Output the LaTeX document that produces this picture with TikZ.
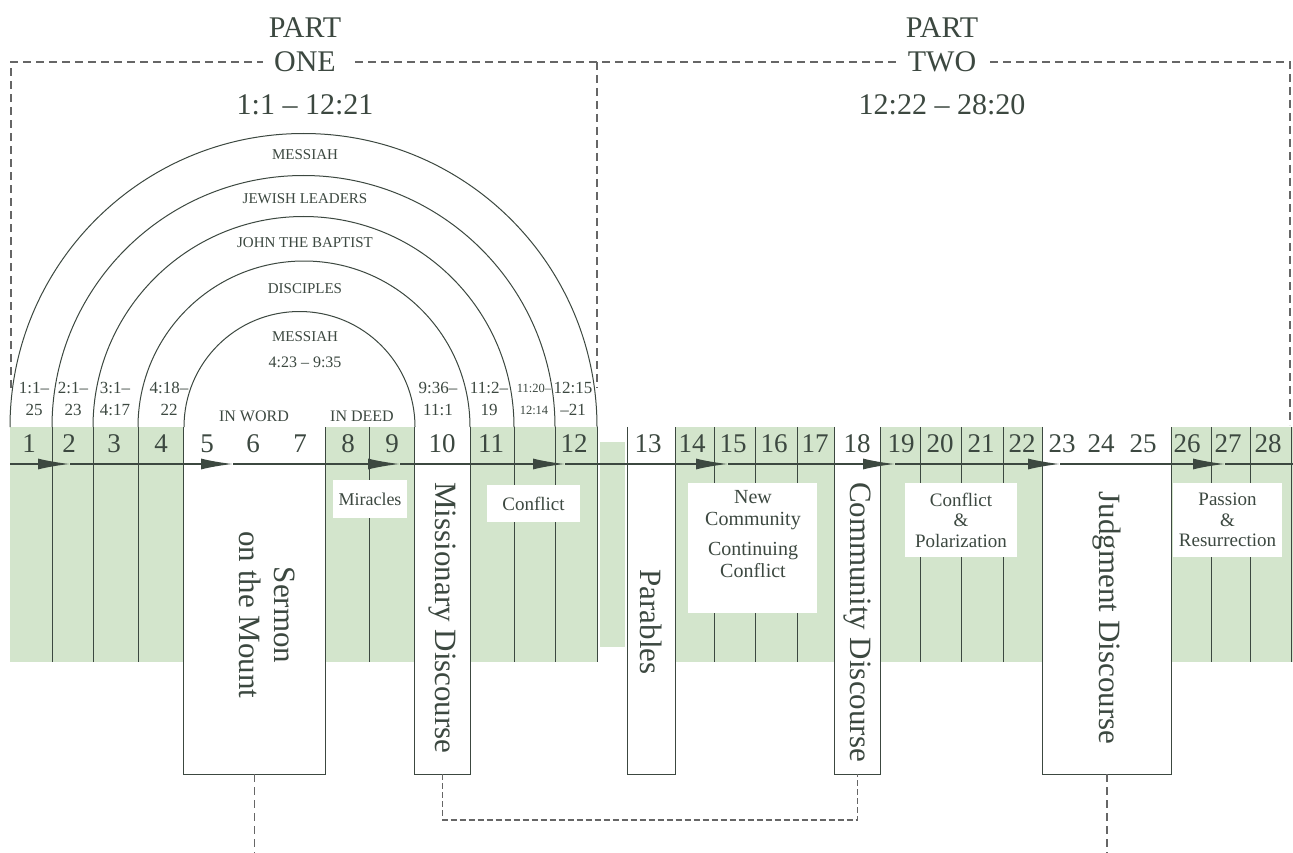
\documentclass[tikz,border=0pt]{standalone}
\usepackage{fontspec}
\setmainfont{Liberation Serif}
\usetikzlibrary{arrows.meta}
\definecolor{band}{HTML}{D3E5CC}
\definecolor{ink}{HTML}{3C4840}
\definecolor{dashc}{HTML}{666666}
\newcommand\fsz[2]{\fontsize{#1}{#2}\selectfont}
\begin{document}
\begin{tikzpicture}[x=1pt,y=-1pt,
  ln/.style={draw=ink, line width=1pt},
  framedash/.style={draw=dashc, line width=1.1pt, dash pattern=on 8pt off 5pt},
  txt/.style={text=ink, inner sep=0pt},
  numlab/.style={txt, font=\fsz{27}{27}, anchor=base},
  arclab/.style={txt, font=\fsz{15}{18}},
  verselab/.style={txt, font=\fsz{17}{22}, align=center},
  whitelab/.style={fill=white, inner sep=0pt, text=ink, align=center},
  rotlab/.style={txt, rotate=-90, font=\fsz{31}{35}, align=center},
  colbox/.style={fill=white, inner sep=0pt, minimum height=347pt},
  titlelab/.style={txt, font=\fsz{30}{30}, anchor=base},
  rangelab/.style={txt, font=\fsz{30}{30}},
  axisln/.style={draw=ink, line width=1.8pt},
  arrln/.style={axisln, -{Latex[length=32pt,width=11pt]}}
]
\useasboundingbox (0,0) rectangle (1293,853);
\fill[white] (0,0) rectangle (1293,853);

% green band
\fill[band] (10,427) rectangle (184,662);
\fill[band] (325,427) rectangle (415,662);
\fill[band] (470,427) rectangle (597,662);
\fill[band] (600,442) rectangle (625,647);
\fill[band] (675,427) rectangle (835,662);
\fill[band] (880,427) rectangle (1043,662);
\fill[band] (1171,427) rectangle (1293,662);

% discourse columns
\node[colbox, minimum width=141pt] (sermon) at (254.5,600.5) {};
\node[colbox, minimum width=55pt] (miss) at (442.5,600.5) {};
\node[colbox, minimum width=47pt] (parab) at (651.5,600.5) {};
\node[colbox, minimum width=45pt] (comm) at (857.5,600.5) {};
\node[colbox, minimum width=128pt] (judg) at (1107,600.5) {};
\foreach \b in {sermon,miss,parab,comm,judg}{
  \draw[ln] (\b.north west) -- (\b.south west) -- (\b.south east) -- (\b.north east);
}

% column lines
\foreach \x in {52,93,138,369,514,555,597,714,755,797,920,961,1003,1211,1250,1291}{
  \draw[ln] (\x,427) -- (\x,662);
}

% arches
\draw[ln] (10,427) arc[start angle=180, end angle=360, radius=293.5];
\draw[ln] (52,427) arc[start angle=180, end angle=360, radius=251.5];
\draw[ln] (93,427) arc[start angle=180, end angle=360, radius=210.5];
\draw[ln] (138,427) arc[start angle=180, end angle=360, radius=166];
\draw[ln] (184,427) arc[start angle=180, end angle=360, radius=115.5];

% axis with arrows
\coordinate (a0) at (10,464);
\coordinate (t1) at (70,464);
\coordinate (t2) at (233,464);
\coordinate (t3) at (400,464);
\coordinate (t4) at (565,464);
\coordinate (t5) at (728,464);
\coordinate (t6) at (895,464);
\coordinate (t7) at (1060,464);
\coordinate (t8) at (1225,464);
\coordinate (aE) at (1293,464);
\draw[arrln] (a0) -- (t1);
\draw[arrln] (t1) -- (t2);
\draw[arrln] (t2) -- (t3);
\draw[arrln] (t3) -- (t4);
\draw[arrln] (t4) -- (t5);
\draw[arrln] (t5) -- (t6);
\draw[arrln] (t6) -- (t7);
\draw[arrln] (t7) -- (t8);
\draw[axisln] (t8) -- (aE);

% white label boxes
\node[whitelab, minimum width=74pt, minimum height=38pt, font=\fsz{18}{18}] (mir) at (370,499) {Miracles};
\node[whitelab, minimum width=93pt, minimum height=37pt, font=\fsz{19}{19}] (conA) at (533.5,503.5) {Conflict};
\node[whitelab, minimum width=129pt, minimum height=130pt] (ncbox) at (752.5,548) {};
\node[txt, font=\fsz{20}{22.5}, align=center] (nctext) at (753,534) {New\\Community\\[7pt]Continuing\\Conflict};
\node[whitelab, minimum width=112pt, minimum height=74pt, font=\fsz{19}{20.5}] (conB) at (961,520) {Conflict\\\&\\Polarization};
\node[whitelab, minimum width=109pt, minimum height=74pt, font=\fsz{19}{20.5}] (pas) at (1227.5,520) {Passion\\\&\\Resurrection};

% rotated discourse labels
\node[rotlab] (sermontext) at (267,615) {Sermon\\on the Mount};
\node[rotlab] (misstext) at (442.5,618) {Missionary Discourse};
\node[rotlab] (parabtext) at (651.5,622) {Parables};
\node[rotlab] (commtext) at (857.5,622) {Community Discourse};
\node[rotlab] (judgtext) at (1107,618) {Judgment Discourse};

% chapter numbers
\foreach \n/\x in {1/29,2/69,3/114,4/161,5/207,6/253,7/300,8/348,9/392,10/442,11/491,12/574,13/648,14/692,15/733,16/774,17/815,18/857,19/901,20/940,21/981,22/1022,23/1062,24/1101,25/1143,26/1187,27/1228,28/1268}{
  \node[numlab] (n\n) at (\x,452) {\n};
}

% arch labels
\node[arclab] (l1) at (305,155) {MESSIAH};
\node[arclab] (l2) at (305,199) {JEWISH LEADERS};
\node[arclab] (l3) at (305,243) {JOHN THE BAPTIST};
\node[arclab] (l4) at (305,289) {DISCIPLES};
\node[arclab] (l5) at (305,337) {MESSIAH};
\node[txt, font=\fsz{16}{16}] (l6) at (305,362) {4:23 -- 9:35};

% verse ranges
\node[verselab] (v1) at (34,399) {1:1--\\25};
\node[verselab] (v2) at (73,399) {2:1--\\23};
\node[verselab] (v3) at (115,399) {3:1--\\4:17};
\node[verselab] (v4) at (169,399) {4:18--\\22};
\node[verselab] (v10) at (438,399) {9:36--\\11:1};
\node[verselab] (v11) at (489,399) {11:2--\\19};
\node[txt, font=\fsz{12.5}{22}, align=center] (v11b) at (534,399) {11:20--\\12:14};
\node[verselab] (v12) at (573,399) {12:15\\--21};
\node[txt, font=\fsz{16}{16}] (inword) at (254,416) {IN WORD};
\node[txt, font=\fsz{16}{16}] (indeed) at (362,416) {IN DEED};

% titles
\node[titlelab] (p1a) at (305,37.5) {PART};
\node[titlelab] (p1b) at (305,71.5) {ONE};
\node[titlelab] (p2a) at (942,37.5) {PART};
\node[titlelab] (p2b) at (942,71.5) {TWO};
\node[rangelab] (r1) at (305,105) {1:1 -- 12:21};
\node[rangelab] (r2) at (942,105) {12:22 -- 28:20};

% dashed frame
\draw[framedash] (11,388) -- (11,62) -- (263,62);
\draw[framedash] (355,62) -- (898,62);
\draw[framedash] (990,62) -- (1290,62) -- (1290,425);
\draw[framedash] (597,62) -- (597,388);

% dashed links below
\coordinate (bot) at (0,853);
\coordinate (hl) at (0,820);
\draw[framedash] (sermon.south) -- (sermon.south |- bot);
\draw[framedash, dash pattern=on 6pt off 3pt] (miss.south) -- (miss.south |- hl) -| (comm.south);
\draw[framedash] (judg.south) -- (judg.south |- bot);
\end{tikzpicture}
\end{document}
